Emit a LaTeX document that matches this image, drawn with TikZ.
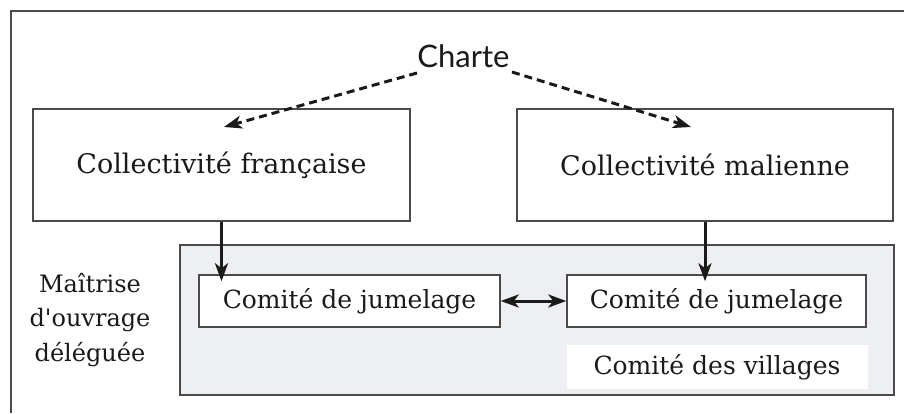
\documentclass[tikz,border=0pt]{standalone}
\usepackage{fontspec}
\setmainfont{DejaVu Serif}[Ligatures=TeXOff]
\newfontfamily\chartefont{Lato}
\usetikzlibrary{arrows.meta}
\definecolor{framegray}{HTML}{4A4A4A}
\definecolor{zonefill}{HTML}{EEEFF3}
\definecolor{ink}{HTML}{1A1A1A}
\begin{document}
\begin{tikzpicture}[x=1pt,y=-1pt,
  tip/.style={-{Stealth[length=18pt,width=13pt,inset=5pt]}},
  box/.style={draw=framegray, line width=1.5pt, fill=white, inner sep=0pt,
    font=\fontsize{25}{30}\selectfont, text=ink},
  bigbox/.style={box, font=\fontsize{27}{32}\selectfont},
  arr/.style={draw=ink, line width=3pt, tip},
  dasharr/.style={draw=ink, line width=3pt, dash pattern=on 8pt off 5pt, tip},
  dblarr/.style={draw=ink, line width=3pt,
    {Stealth[length=18pt,width=13pt,inset=5pt]}-{Stealth[length=18pt,width=13pt,inset=5pt]}}]
\useasboundingbox (0,0) rectangle (904,413);
\fill[white] (0,0) rectangle (904,413);

% outer frame: top and left edges only
\draw[framegray, line width=2pt] (11,413) -- (11,11) -- (904,11);

% delegated zone
\draw[framegray, line width=1.5pt, fill=zonefill] (180,245) rectangle (894,395);

% top label
\node[font=\chartefont\fontsize{31}{36}\selectfont, text=ink] (charte) at (463.5,56) {Charte};

% communities
\node[bigbox, minimum width=377pt, minimum height=112pt] (fr) at (221.5,165) {Collectivité française};
\node[bigbox, minimum width=376pt, minimum height=112pt] (ml) at (705,165) {Collectivité malienne};

% twinning committees
\node[box, minimum width=301pt, minimum height=52pt] (cjfr) at (349.5,301) {Comité de jumelage};
\node[box, minimum width=299pt, minimum height=52pt] (cjml) at (716.5,301) {Comité de jumelage};
\node[box, draw=none, minimum width=301pt, minimum height=44pt] (villages) at (717,367) {Comité des villages};

% side caption
\node[font=\fontsize{24}{34.5}\selectfont, text=ink, align=center] (mod) at (90,320)
  {Maîtrise\\d'ouvrage\\déléguée};

% charter links
\coordinate (chl) at (417,73);
\coordinate (chr) at (512,72);
\coordinate (tipfr) at (224,127);
\coordinate (tipml) at (691,127);
\draw[dasharr] (chl) -- (tipfr);
\draw[dasharr] (chr) -- (tipml);

% delegation arrows
\draw[arr] (fr.south) -- ([yshift=-7pt]cjfr.north -| fr.south);
\draw[arr] (ml.south) -- ([yshift=-7pt]cjml.north -| ml.south);

% exchange between committees
\draw[dblarr] (cjfr.east) -- (cjml.west);
\end{tikzpicture}
\end{document}
